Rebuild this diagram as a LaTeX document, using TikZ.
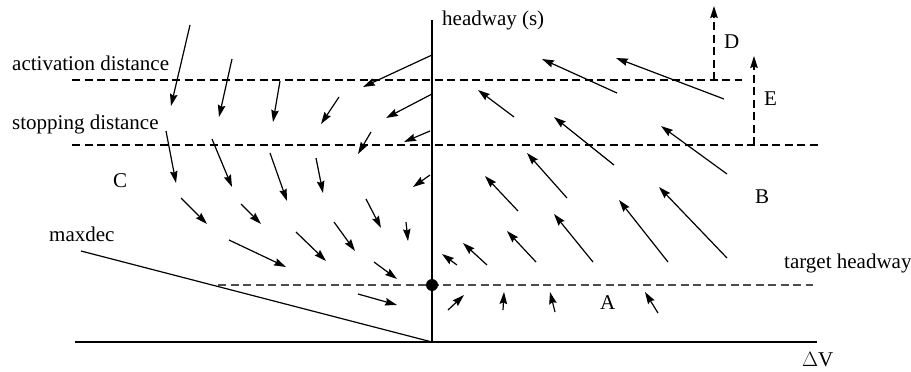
\documentclass[tikz,border=0pt]{standalone}
\usepackage{fontspec}
\setmainfont{Liberation Serif}
\usetikzlibrary{arrows.meta}

\begin{document}
\begin{tikzpicture}[x=1pt, y=-1pt,
    field/.style={line width=1.2pt, -{Stealth[length=12pt, width=7.5pt, inset=1.5pt]}},
    level/.style={line width=1.2pt, dash pattern=on 8pt off 4.5pt},
    lbl/.style={font=\fontsize{21}{24}\selectfont, inner sep=0pt, anchor=base west}]
    \useasboundingbox (0,0) rectangle (911,372);

    % Axes
    \coordinate (O) at (432,342);
    \coordinate (ytop) at (432,20);
    \coordinate (xleft) at (75,342);
    \coordinate (xright) at (817,342);
    \draw[line width=1.4pt] (xleft) -- (xright);
    \draw[line width=1.4pt] (O) -- (ytop);
    \node[lbl] (yname) at (442,25) {headway (s)};
    \node[lbl] (xname) at (802,366) {$\Delta$V};

    % Distance levels
    \draw[level] (72,80) coordinate (act-l) -- (742,80) coordinate (act-r);
    \draw[level] (72,145) coordinate (stop-l) -- (820,145) coordinate (stop-r);
    \draw[level, black!70] (218,285) coordinate (tgt-l) -- (813,285) coordinate (tgt-r);
    \node[lbl] (act) at (12,70) {activation distance};
    \node[lbl] (stop) at (12,129) {stopping distance};
    \node[lbl] (tgt) at (784,268) {target headway};

    % Maximum deceleration line and equilibrium point
    \coordinate (md) at (81,251);
    \draw[line width=1.2pt] (md) -- (O);
    \node[lbl] (maxdec) at (49,241) {maxdec};
    \node[circle, fill=black, inner sep=0pt, minimum size=12pt] (eq) at (432,285) {};

    % Region labels
    \node[lbl] (A) at (600,309) {A};
    \node[lbl] (B) at (755,203) {B};
    \node[lbl] (C) at (113,187) {C};
    \node[lbl] (D) at (724,48) {D};
    \node[lbl] (E) at (764,105) {E};

    % Dashed offsets D and E
    \coordinate (d0) at (714,80);
    \coordinate (d1) at (714,6);
    \coordinate (e0) at (754,145);
    \coordinate (e1) at (754,56);
    \draw[field, dash pattern=on 8pt off 4.5pt] (d0) -- (d1);
    \draw[field, dash pattern=on 8pt off 4.5pt] (e0) -- (e1);

    % Field left of the axis (closing in)
    \foreach \xa/\ya/\xb/\yb in {190/25/171/106, 232/59/219/117, 280/81/273/122,
        339/97/321/124, 432/55/363/87, 432/94/386/118, 371/132/358/154,
        430/131/404/142, 166/131/176/183, 212/139/232/187, 270/153/287/201,
        316/158/323/193, 430/175/413/187, 181/198/207/224, 241/204/261/224,
        366/199/381/228, 406/222/408/241, 229/240/286/267, 296/232/326/261,
        334/222/355/251, 374/262/397/279, 358/294/397/305}
        \draw[field] (\xa,\ya) -- (\xb,\yb);

    % Field right of the axis (opening)
    \foreach \xa/\ya/\xb/\yb in {617/93/542/59, 724/99/616/58, 514/117/478/90,
        614/165/554/117, 727/174/661/126, 567/198/527/153, 518/211/485/176,
        727/258/659/187, 668/262/619/200, 593/262/554/214, 536/262/507/231,
        487/265/463/243, 457/265/442/254, 448/310/464/295, 503/310/504/292,
        555/312/550/292, 658/313/645/292}
        \draw[field] (\xa,\ya) -- (\xb,\yb);
\end{tikzpicture}
\end{document}
